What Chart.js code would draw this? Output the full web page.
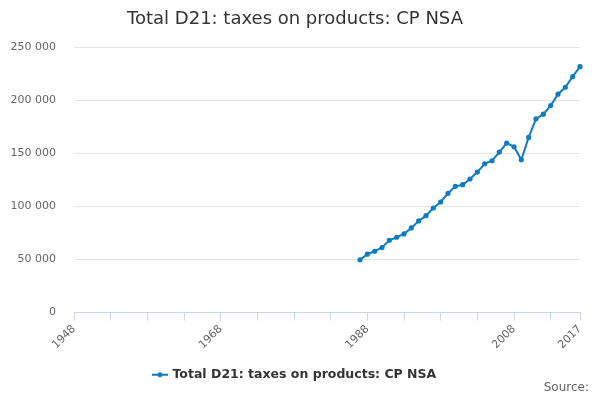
<!DOCTYPE html>
<html>
<head>
<meta charset="utf-8">
<script src="https://cdn.jsdelivr.net/npm/chart.js@4"></script>
<style>
    html, body { margin: 0; padding: 0; background: #fff; }
    #wrap { position: relative; width: 600px; height: 400px; }
    #source { position: absolute; right: 11px; top: 380px; font: 12px "DejaVu Sans", sans-serif; color: #666; }
</style>
</head>
<body>
<div id="wrap">
    <canvas id="chart" width="600" height="400"></canvas>
    <div id="source">Source:</div>
</div>
<script>
// Years on the axis
const years = [];
for (let y = 1948; y <= 2017; y++) years.push(y);

// Series values, 1987 to 2017 (£ million)
const seriesStart = 1987;
const seriesValues = [
    49700, 55000, 57800, 61300, 68200, 71000, 74200, 79800, 86400, 91400,
    98600, 104300, 112500, 119100, 120600, 126000, 132500, 140400, 143200, 151400,
    159900, 156400, 144200, 165200, 182800, 187200, 195300, 206000, 212600, 222600,
    232000
];

const labelYears = [1948, 1968, 1988, 2008, 2017];
const seriesName = 'Total D21: taxes on products: CP NSA';

// line up the values with the axis years
const data = years.map(y => {
    const i = y - seriesStart;
    return i >= 0 && i < seriesValues.length ? seriesValues[i] : null;
});

const lineColor = '#0f7cc0';

// legend symbol: short line with a dot
function legendSymbol() {
    const c = document.createElement('canvas');
    c.width = 16; c.height = 8;
    const g = c.getContext('2d');
    g.strokeStyle = lineColor;
    g.lineWidth = 2;
    g.beginPath();
    g.moveTo(0, 4); g.lineTo(16, 4);
    g.stroke();
    g.fillStyle = lineColor;
    g.beginPath();
    g.arc(8, 4, 2.5, 0, Math.PI * 2);
    g.fill();
    return c;
}

function spaced(v) {
    return String(v).replace(/\B(?=(\d{3})+(?!\d))/g, ' ');
}

new Chart(document.getElementById('chart'), {
    type: 'line',
    data: {
        labels: years,
        datasets: [{
            label: seriesName,
            data: data,
            borderColor: lineColor,
            backgroundColor: lineColor,
            borderWidth: 2,
            pointRadius: 1.6,
            pointHoverRadius: 3,
            spanGaps: false,
            tension: 0
        }]
    },
    options: {
        responsive: false,
        animation: false,
        layout: { padding: { left: 10, right: 20, top: 0, bottom: 9 } },
        plugins: {
            title: {
                display: true,
                text: seriesName,
                color: '#333',
                font: { family: 'DejaVu Sans', size: 18, weight: 'normal' },
                padding: { top: 9, bottom: 17 }
            },
            legend: {
                position: 'bottom',
                labels: {
                    usePointStyle: true,
                    pointStyle: legendSymbol(),
                    color: '#333',
                    font: { family: 'DejaVu Sans', size: 12.5, weight: 'bold' },
                    padding: 10
                }
            },
            tooltip: { enabled: false }
        },
        scales: {
            x: {
                type: 'category',
                offset: false,
                grid: {
                    display: true,
                    drawOnChartArea: false,
                    drawTicks: true,
                    tickLength: 8,
                    color: ctx => {
                        const y = years[ctx.index];
                        return ((y - 1948) % 5 === 0 || y === 2017) ? '#ccd6eb' : 'rgba(0,0,0,0)';
                    }
                },
                border: { display: true, color: '#ccd6eb', width: 1 },
                ticks: {
                    autoSkip: false,
                    maxRotation: 45,
                    minRotation: 45,
                    color: '#666',
                    font: { family: 'DejaVu Sans', size: 11 },
                    padding: 2,
                    callback: (v, i) => labelYears.includes(years[i]) ? String(years[i]) : ''
                },
                afterFit: s => { s.height = 46; }
            },
            y: {
                min: 0,
                max: 250000,
                grid: { color: '#e6e6e6', drawTicks: false },
                border: { display: false },
                ticks: {
                    stepSize: 50000,
                    color: '#666',
                    font: { family: 'DejaVu Sans', size: 11 },
                    padding: 18,
                    callback: v => spaced(v)
                },
                afterFit: s => { s.width = 64; }
            }
        }
    }
});
</script>
</body>
</html>
